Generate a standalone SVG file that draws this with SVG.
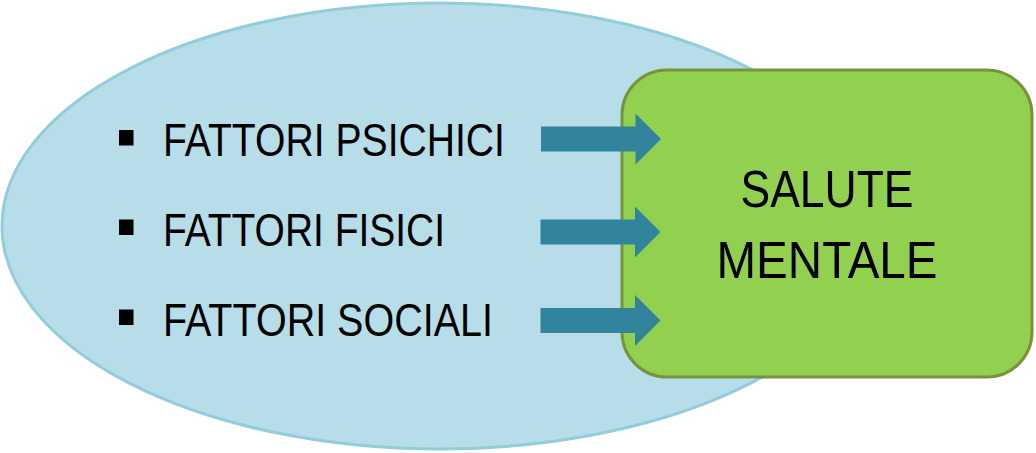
<svg xmlns="http://www.w3.org/2000/svg" width="1036" height="453" viewBox="0 0 1036 453">
<style>
.item{font-family:"Liberation Sans",Arial,sans-serif;font-size:46px;fill:#000}
.title{font-family:"Liberation Sans",Arial,sans-serif;font-size:52px;fill:#000;text-anchor:middle}
.bullet{fill:#000}
.arrow{fill:#31849B}
</style>
<defs>
<polygon id="arrowShape" points="0,-12.5 94.5,-12.5 94.5,-25.5 120,0 94.5,25.5 94.5,12.5 0,12.5"/>
</defs>
<rect width="1036" height="453" fill="#fff"/>
<g id="factors">
<ellipse cx="440" cy="226" rx="438" ry="223" fill="#B7DDE8" stroke="#92CDDC" stroke-width="3"/>
<rect class="bullet" x="119" y="130" width="14.5" height="15.5"/>
<text class="item" x="163" y="156" textLength="342" lengthAdjust="spacingAndGlyphs">FATTORI PSICHICI</text>
<rect class="bullet" x="119" y="219.5" width="14.5" height="15.5"/>
<text class="item" x="163" y="245.5" textLength="282" lengthAdjust="spacingAndGlyphs">FATTORI FISICI</text>
<rect class="bullet" x="119" y="309.5" width="14.5" height="15.5"/>
<text class="item" x="163" y="336" textLength="330" lengthAdjust="spacingAndGlyphs">FATTORI SOCIALI</text>
</g>
<g id="salute">
<rect x="622" y="70" width="410" height="307" rx="45" ry="45" fill="#92D050" stroke="#77933C" stroke-width="3"/>
<text class="title" x="827" y="207" textLength="173" lengthAdjust="spacingAndGlyphs">SALUTE</text>
<text class="title" x="827" y="278" textLength="221" lengthAdjust="spacingAndGlyphs">MENTALE</text>
</g>
<g id="connectors">
<use href="#arrowShape" class="arrow" x="541" y="139"/>
<use href="#arrowShape" class="arrow" x="540.5" y="232"/>
<use href="#arrowShape" class="arrow" x="540.5" y="320.5"/>
</g>
</svg>
